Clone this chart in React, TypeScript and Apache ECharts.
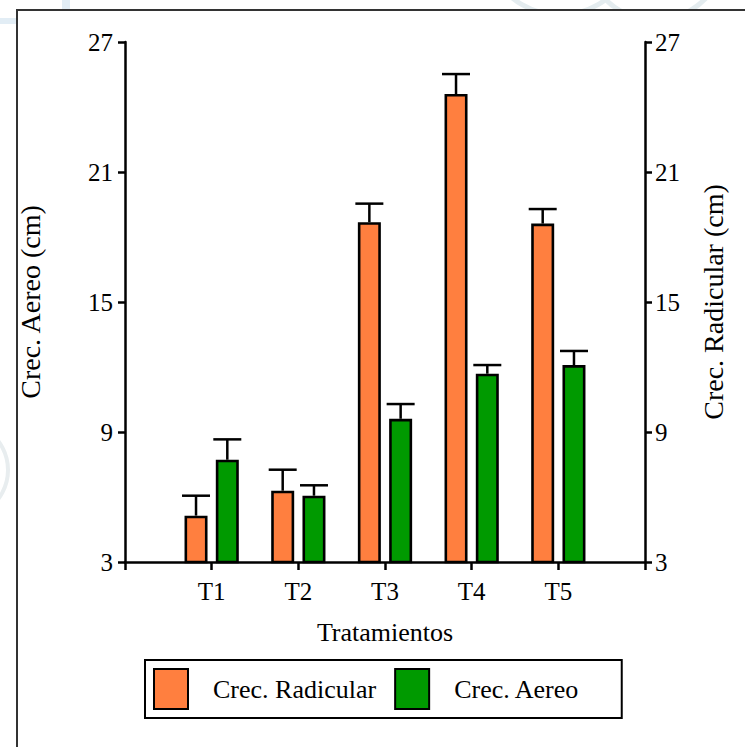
import React, { useEffect, useRef } from "react";
import * as echarts from "echarts";

const categories = ["", "T1", "T2", "T3", "T4", "T5", ""];
const radicular = [null, 5.14, 6.29, 18.68, 24.6, 18.62, null];
const radicularErr = [null, 0.92, 0.97, 0.86, 0.92, 0.67, null];
const aereo = [null, 7.72, 6.06, 9.61, 11.69, 12.09, null];
const aereoErr = [null, 0.94, 0.48, 0.68, 0.4, 0.65, null];
const yTicks = [3, 9, 15, 21, 27];

const FONT = "Liberation Serif";
const ORANGE = "#FF7F3F";
const GREEN = "#009A00";
const BAR_W = 23;
const BAR_GAP = 0.36;
const OFFSET = (BAR_W * (2 + BAR_GAP)) / 2 - BAR_W / 2;

function errData(vals: (number | null)[], errs: (number | null)[]) {
  const out: number[][] = [];
  vals.forEach((v, i) => {
    if (v != null && errs[i] != null) out.push([i, v, errs[i] as number]);
  });
  return out;
}

function makeErrRender(offset: number) {
  return (params: any, api: any) => {
    const idx = api.value(0);
    const v = api.value(1);
    const e = api.value(2);
    const base = api.coord([idx, v]);
    const top = api.coord([idx, v + e]);
    const x = base[0] + offset;
    return {
      type: "group",
      children: [
        {
          type: "line",
          shape: { x1: x, y1: base[1], x2: x, y2: top[1] },
          style: { stroke: "#000", lineWidth: 2.5 },
        },
        {
          type: "line",
          shape: { x1: x - 14, y1: top[1], x2: x + 14, y2: top[1] },
          style: { stroke: "#000", lineWidth: 2.5 },
        },
      ],
    };
  };
}

export default function App() {
  const ref = useRef<HTMLDivElement>(null);
  useEffect(() => {
    if (!ref.current) return;
    const chart = echarts.init(ref.current, undefined, { renderer: "svg" });
    const yAxisCommon = {
      type: "value",
      min: 3,
      max: 27,
      splitLine: { show: false },
      axisLine: { show: true, lineStyle: { color: "#000", width: 2.5 } },
      axisTick: {
        show: true,
        length: 7,
        customValues: yTicks,
        lineStyle: { color: "#000", width: 2.5 },
      },
      nameLocation: "middle",
      nameRotate: 90,
      nameTextStyle: { fontFamily: FONT, fontSize: 28, color: "#000" },
    };
    chart.setOption({
      animation: false,
      backgroundColor: "#fff",
      textStyle: { fontFamily: FONT },
      grid: { left: 125, right: 100, top: 42, bottom: 185, containLabel: false },
      graphic: [
        {
          type: "circle",
          shape: { cx: 655, cy: -50, r: 70 },
          style: { fill: "none", stroke: "#e4ecef", lineWidth: 5 },
          z: -10,
        },
        {
          type: "circle",
          shape: { cx: 560, cy: -60, r: 75 },
          style: { fill: "none", stroke: "#e4ecef", lineWidth: 5 },
          z: -10,
        },
        {
          type: "rect",
          shape: { x: 0, y: 18, width: 17, height: 6 },
          style: { fill: "#e2edf5" },
          z: -10,
        },
        {
          type: "rect",
          shape: { x: 62, y: 0, width: 8, height: 10 },
          style: { fill: "#e2edf5" },
          z: -10,
        },
        {
          type: "circle",
          shape: { cx: -40, cy: 470, r: 48 },
          style: { fill: "none", stroke: "#e8edef", lineWidth: 4 },
          z: -10,
        },
        {
          type: "rect",
          shape: { x: 17, y: 10, width: 760, height: 760 },
          style: { fill: "#fff", stroke: "#333", lineWidth: 2 },
          z: -5,
        },
      ],
      legend: {
        left: 145,
        top: 660,
        orient: "horizontal",
        data: ["Crec. Radicular", "Crec. Aereo"],
        itemWidth: 34,
        itemHeight: 40,
        itemGap: 18,
        padding: [8, 42, 8, 8],
        borderColor: "#000",
        borderWidth: 2,
        backgroundColor: "#fff",
        icon: "rect",
        selectedMode: false,
        textStyle: {
          fontFamily: FONT,
          fontSize: 26,
          color: "#000",
          padding: [0, 0, 0, 20],
        },
      },
      xAxis: {
        type: "category",
        data: categories,
        boundaryGap: false,
        name: "Tratamientos",
        nameLocation: "middle",
        nameGap: 57,
        nameTextStyle: { fontFamily: FONT, fontSize: 26, color: "#000" },
        axisLine: { show: true, onZero: false, lineStyle: { color: "#000", width: 2.5 } },
        axisTick: { show: true, interval: 0, length: 8, lineStyle: { color: "#000", width: 2.5 } },
        axisLabel: {
          interval: 0,
          margin: 17,
          fontFamily: FONT,
          fontSize: 25,
          color: "#000",
        },
        splitLine: { show: false },
      },
      yAxis: [
        {
          ...yAxisCommon,
          position: "left",
          name: "Crec. Aereo (cm)",
          nameGap: 81,
          axisLabel: {
            customValues: yTicks,
            margin: 12,
            fontFamily: FONT,
            fontSize: 25,
            color: "#000",
          },
        },
        {
          ...yAxisCommon,
          position: "right",
          name: "Crec. Radicular (cm)",
          nameGap: 54,
          axisLabel: {
            customValues: yTicks,
            margin: 10,
            fontFamily: FONT,
            fontSize: 25,
            color: "#000",
          },
        },
      ],
      series: [
        {
          name: "Crec. Radicular",
          type: "bar",
          xAxisIndex: 0,
          yAxisIndex: 1,
          data: radicular.map((v) => (v == null ? "-" : v)),
          barWidth: BAR_W,
          barGap: BAR_GAP * 100 + "%",
          itemStyle: { color: ORANGE, borderColor: "#000", borderWidth: 2.6 },
          z: 2,
        },
        {
          name: "Crec. Aereo",
          type: "bar",
          xAxisIndex: 0,
          yAxisIndex: 0,
          data: aereo.map((v) => (v == null ? "-" : v)),
          barWidth: BAR_W,
          barGap: BAR_GAP * 100 + "%",
          itemStyle: { color: GREEN, borderColor: "#000", borderWidth: 2.6 },
          z: 2,
        },
        {
          name: "errR",
          type: "custom",
          xAxisIndex: 0,
          yAxisIndex: 1,
          data: errData(radicular, radicularErr),
          renderItem: makeErrRender(-OFFSET),
          z: 1,
          silent: true,
        },
        {
          name: "errA",
          type: "custom",
          xAxisIndex: 0,
          yAxisIndex: 0,
          data: errData(aereo, aereoErr),
          renderItem: makeErrRender(OFFSET),
          z: 1,
          silent: true,
        },
      ],
    });
    return () => chart.dispose();
  }, []);
  return (
    <div
      ref={ref}
      style={{ position: "fixed", left: 0, top: 0, width: 745, height: 747 }}
    />
  );
}
